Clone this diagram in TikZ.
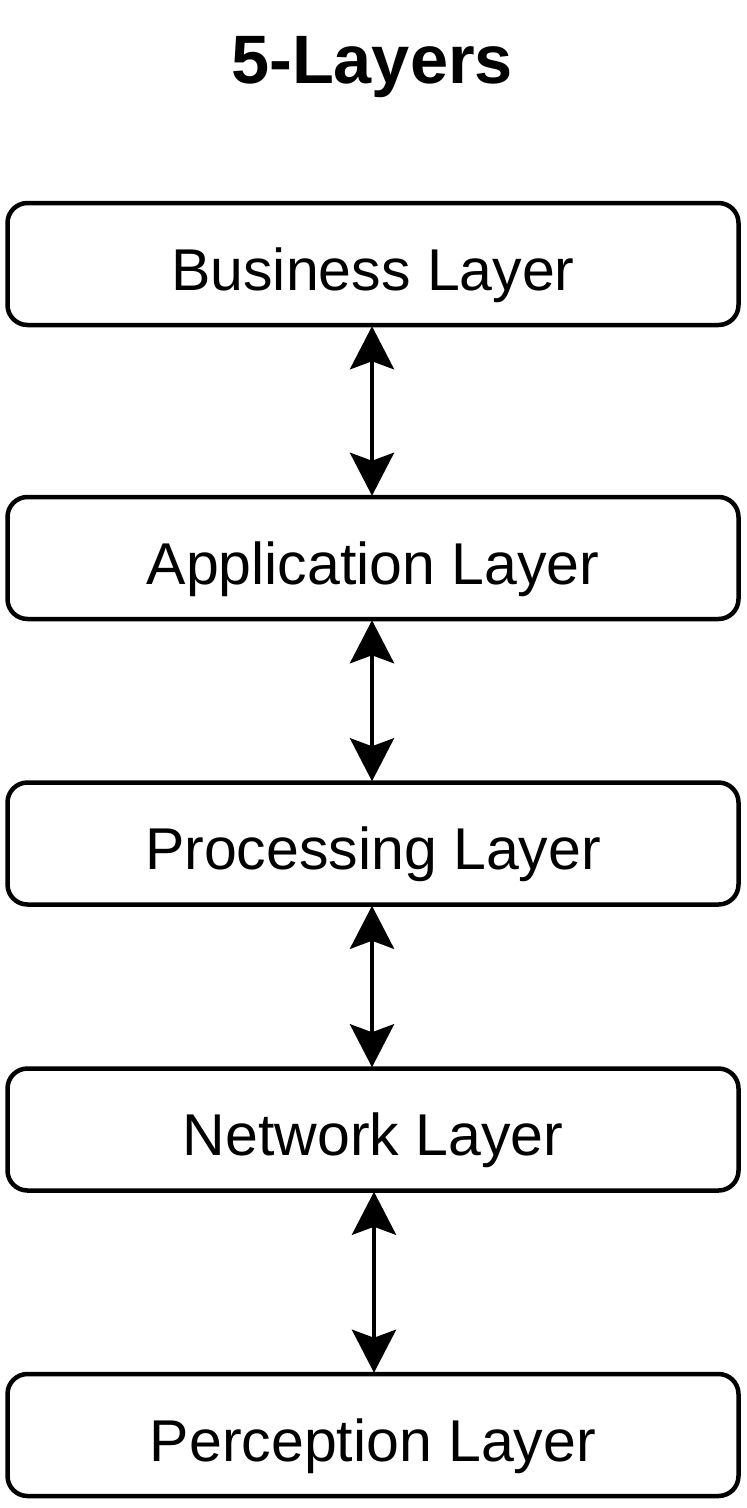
\documentclass[tikz,border=0pt]{standalone}
\usepackage{fontspec}
\setmainfont{Liberation Sans}
\usetikzlibrary{arrows.meta}
\begin{document}
\begin{tikzpicture}[x=1pt,y=-1pt,
  layer/.style={draw=black, line width=4.5pt, rounded corners=20pt, fill=white,
    minimum width=731pt, minimum height=122pt, inner sep=0pt,
    text height=52pt, text depth=0pt,
    font=\fontsize{59}{70}\selectfont},
  link/.style={line width=4.5pt, {Stealth[length=43pt,width=44pt,inset=8pt]}-{Stealth[length=43pt,width=44pt,inset=8pt]}, shorten <=-1pt, shorten >=-1pt}]
\useasboundingbox (0,0) rectangle (747,1508);
\node[anchor=base, font=\bfseries\fontsize{68.5}{80}\selectfont] (title) at (372,83) {5-Layers};
\node[layer] (bus) at (373,264) {Business Layer};
\node[layer] (app) at (373,558) {Application Layer};
\node[layer] (proc) at (373,843.5) {Processing Layer};
\node[layer] (net) at (373,1129.5) {Network Layer};
\node[layer] (perc) at (373,1435) {Perception Layer};
\draw[link] (bus.south -| 372,0) -- (app.north -| 372,0);
\draw[link] (app.south -| 372,0) -- (proc.north -| 372,0);
\draw[link] (proc.south -| 372,0) -- (net.north -| 372,0);
\draw[link] (net.south -| 374,0) -- (perc.north -| 374,0);
\end{tikzpicture}
\end{document}
